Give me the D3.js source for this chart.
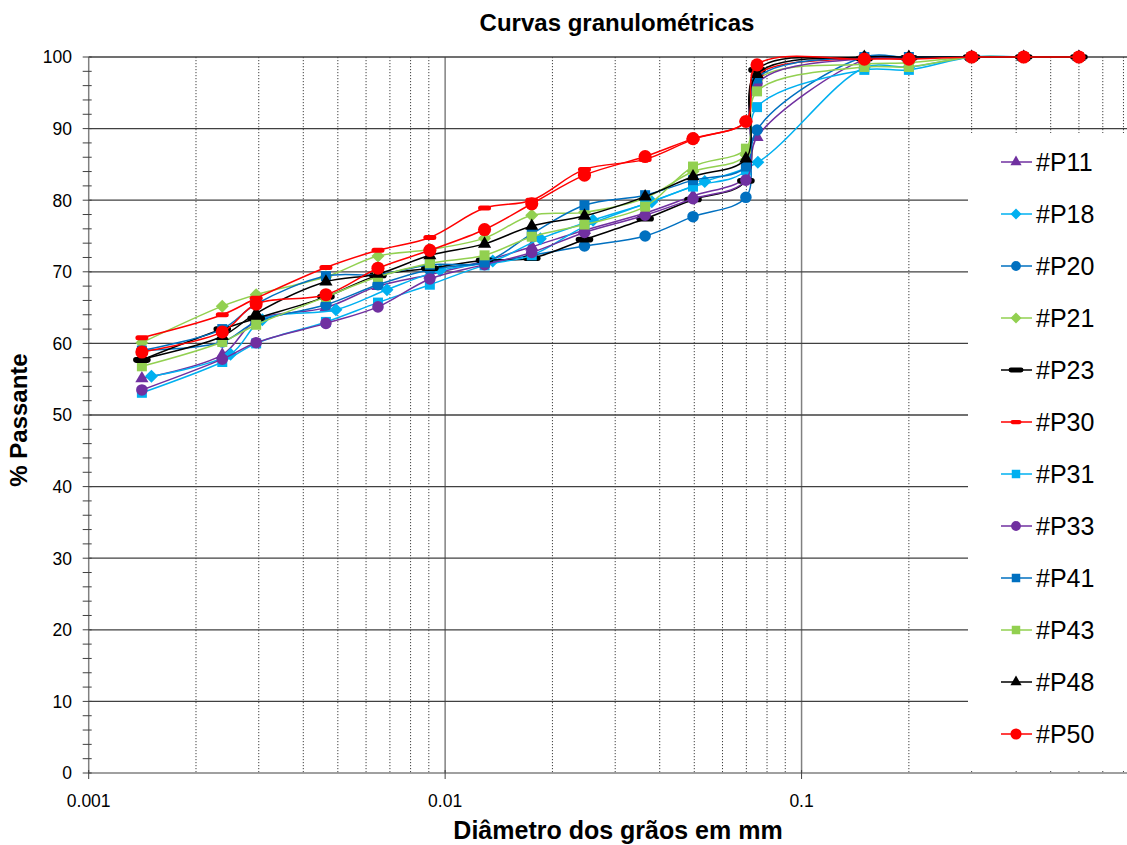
<!DOCTYPE html>
<html>
<head>
<meta charset="utf-8">
<script src="https://cdn.jsdelivr.net/npm/d3@7"></script>
<style>
  body { margin: 0; background: #fff; }
  svg { display: block; font-family: Arial, "Liberation Sans", sans-serif; }
</style>
</head>
<body>
<div id="chart"></div>
<script>
// grain diameters (mm) shared by most samples
const diameters = [0.00141, 0.00237, 0.00295, 0.00463, 0.00648, 0.00906, 0.0129, 0.0175, 0.0246, 0.0364, 0.0496, 0.0698, 0.075, 0.15, 0.2, 0.3, 0.42, 0.6];
// #P18 was read at slightly different diameters
const diametersP18 = [0.0015, 0.0025, 0.00307, 0.00494, 0.00687, 0.00968, 0.0136, 0.0185, 0.026, 0.038, 0.0535, 0.0754, 0.15, 0.2, 0.3, 0.42, 0.6];

const seriesNames = ["#P11", "#P18", "#P20", "#P21", "#P23", "#P30", "#P31", "#P33", "#P41", "#P43", "#P48", "#P50"];

// % passante for each sample
const p11 = [55.1, 58.4, 63.2, 65.0, 68.0, 69.6, 71.5, 73.5, 75.8, 78.2, 80.6, 83.2, 88.8, 99.6, 99.9, 100, 100, 100];
const p18 = [55.4, 58.5, 63.3, 64.7, 67.5, 70.2, 71.5, 74.6, 77.2, 79.8, 82.6, 85.3, 98.5, 98.6, 100, 100, 100];
const p20 = [59.0, 60.2, 63.0, 65.4, 68.2, 70.3, 71.2, 72.3, 73.6, 75.0, 77.7, 80.4, 89.8, 100, 99.9, 100, 100, 100];
const p21 = [60.1, 65.2, 66.8, 69.3, 72.2, 73.1, 74.7, 77.9, 78.3, 80.3, 84.0, 86.3, 96.8, 99.0, 99.2, 100, 100, 100];
const p23 = [57.7, 62.0, 63.5, 66.5, 69.5, 70.5, 71.6, 71.9, 74.5, 77.4, 80.1, 82.7, 98.2, 99.8, 99.9, 100, 100, 100];
const p30 = [60.8, 64.0, 66.3, 70.6, 73.0, 74.8, 78.9, 80.0, 84.3, 85.7, 88.5, 91.0, 97.5, 99.8, 99.9, 100, 100, 100];
const p31 = [53.1, 57.4, 60.0, 63.0, 65.7, 68.2, 70.9, 72.3, 76.3, 79.5, 81.9, 84.2, 93.0, 98.2, 98.2, 100, 100, 100];
const p33 = [53.5, 57.8, 60.1, 62.8, 65.1, 69.0, 71.0, 72.7, 75.5, 77.9, 80.2, 82.8, 96.3, 99.8, 99.9, 100, 100, 100];
const p41 = [59.0, 62.0, 65.5, 69.4, 69.6, 71.0, 71.3, 75.3, 79.3, 80.7, 82.8, 84.7, 97.0, 100, 100, 100, 100, 100];
const p43 = [56.8, 60.2, 62.6, 66.5, 69.3, 71.2, 72.3, 74.9, 76.6, 79.1, 84.7, 87.2, 95.2, 98.6, 98.6, 100, 100, 100];
const p48 = [57.8, 61.0, 64.2, 68.6, 69.7, 72.3, 73.9, 76.4, 77.8, 80.5, 83.3, 85.8, 97.6, 100, 100, 100, 100, 100];
const p50 = [58.8, 61.6, 65.5, 66.8, 70.5, 73.0, 75.9, 79.5, 83.5, 86.1, 88.6, 91.0, 98.9, 99.7, 99.7, 100, 100, 100];

const yTicks = [0, 10, 20, 30, 40, 50, 60, 70, 80, 90, 100];
const xTicks = [0.001, 0.01, 0.1];
const xTickLabels = ["0.001", "0.01", "0.1"];

const seriesValues = [p11, p18, p20, p21, p23, p30, p31, p33, p41, p43, p48, p50];
const seriesDiameters = [diameters, diametersP18, diameters, diameters, diameters, diameters, diameters, diameters, diameters, diameters, diameters, diameters];

// look of each sample: colour + marker
const seriesStyle = {
  "#P11": { color: "#7030A0", marker: "triangle" },
  "#P18": { color: "#00B0F0", marker: "diamond" },
  "#P20": { color: "#0070C0", marker: "circle" },
  "#P21": { color: "#92D050", marker: "diamond" },
  "#P23": { color: "#000000", marker: "dash" },
  "#P30": { color: "#FF0000", marker: "smalldash" },
  "#P31": { color: "#00B0F0", marker: "square" },
  "#P33": { color: "#7030A0", marker: "circle" },
  "#P41": { color: "#0070C0", marker: "square" },
  "#P43": { color: "#92D050", marker: "square" },
  "#P48": { color: "#000000", marker: "triangle" },
  "#P50": { color: "#FF0000", marker: "bigcircle" }
};

const series = seriesNames.map((name, i) => ({
  name,
  points: seriesValues[i].map((v, j) => ({ d: seriesDiameters[i][j], v })),
  ...seriesStyle[name]
}));

const width = 1127, height = 845;
const plot = { left: 88.7, right: 1158, top: 57, bottom: 773 };

const x = d3.scaleLog().domain([0.001, 1]).range([plot.left, plot.right]);
const y = d3.scaleLinear().domain([0, 100]).range([plot.bottom, plot.top]);

const svg = d3.select("#chart").append("svg")
  .attr("width", width)
  .attr("height", height);

svg.append("rect").attr("width", width).attr("height", height).attr("fill", "#fff");

// vertical grid: minor dotted, decades solid
const minorX = [];
[0.001, 0.01, 0.1].forEach(k => {
  for (let m = 2; m <= 9; m++) minorX.push(m * k);
});
svg.append("g").selectAll("line").data(minorX).enter().append("line")
  .attr("x1", d => x(d)).attr("x2", d => x(d))
  .attr("y1", plot.top).attr("y2", plot.bottom)
  .attr("stroke", "#404040")
  .attr("stroke-width", 1)
  .attr("stroke-dasharray", "1.2,1.8");

svg.append("g").selectAll("line").data([0.01, 0.1]).enter().append("line")
  .attr("x1", d => x(d)).attr("x2", d => x(d))
  .attr("y1", plot.top).attr("y2", plot.bottom)
  .attr("stroke", "#808080")
  .attr("stroke-width", 1.5);

// horizontal grid
svg.append("g").selectAll("line").data(yTicks.filter(t => t > 0)).enter().append("line")
  .attr("x1", plot.left).attr("x2", plot.right)
  .attr("y1", d => y(d)).attr("y2", d => y(d))
  .attr("stroke", "#404040")
  .attr("stroke-width", 1.3);

// legend background covers the grid
const legend = { left: 968, top: 133, bottom: 770 };
svg.append("rect")
  .attr("x", legend.left).attr("y", legend.top)
  .attr("width", width - legend.left).attr("height", legend.bottom - legend.top)
  .attr("fill", "#fff");

// axes
svg.append("line")
  .attr("x1", plot.left).attr("x2", plot.left)
  .attr("y1", plot.top).attr("y2", plot.bottom)
  .attr("stroke", "#808080").attr("stroke-width", 1.5);
svg.append("line")
  .attr("x1", plot.left).attr("x2", plot.right)
  .attr("y1", plot.bottom).attr("y2", plot.bottom)
  .attr("stroke", "#808080").attr("stroke-width", 1.5);

// y ticks (major + minor every 2)
const yMinor = d3.range(0, 101, 2);
svg.append("g").selectAll("line").data(yMinor).enter().append("line")
  .attr("x1", plot.left - 6).attr("x2", plot.left + 3)
  .attr("y1", d => y(d)).attr("y2", d => y(d))
  .attr("stroke", "#404040").attr("stroke-width", 1);

svg.append("g").selectAll("text").data(yTicks).enter().append("text")
  .attr("x", 72).attr("y", d => y(d))
  .attr("dy", "0.36em")
  .attr("text-anchor", "end")
  .attr("font-size", 17.5)
  .text(d => d);

// x ticks
svg.append("g").selectAll("line").data(xTicks).enter().append("line")
  .attr("x1", d => x(d)).attr("x2", d => x(d))
  .attr("y1", plot.bottom - 3).attr("y2", plot.bottom + 6)
  .attr("stroke", "#404040");

svg.append("g").selectAll("text").data(xTicks).enter().append("text")
  .attr("x", d => x(d)).attr("y", 807)
  .attr("text-anchor", "middle")
  .attr("font-size", 17.5)
  .text((d, i) => xTickLabels[i]);

// markers
function markerPath(type) {
  switch (type) {
    case "triangle": return d3.symbol(d3.symbolTriangle, 75)();
    case "circle": return d3.symbol(d3.symbolCircle, 105)();
    case "bigcircle": return d3.symbol(d3.symbolCircle, 135)();
    case "square": return d3.symbol(d3.symbolSquare, 100)();
    case "diamond": return "M0,-6.5L6.5,0L0,6.5L-6.5,0Z";
    case "dash": return "M-6,-2.8H6A2.8,2.8 0 0 1 6,2.8H-6A2.8,2.8 0 0 1 -6,-2.8Z";
    case "smalldash": return "M-4,-2.5H4A2.5,2.5 0 0 1 4,2.5H-4A2.5,2.5 0 0 1 -4,-2.5Z";
  }
}

const line = d3.line()
  .x(p => x(p.d))
  .y(p => y(p.v))
  .curve(d3.curveCatmullRom.alpha(0.5));

const seriesG = svg.append("g").selectAll("g").data(series).enter().append("g");

seriesG.append("path")
  .attr("d", s => line(s.points))
  .attr("fill", "none")
  .attr("stroke", s => s.color)
  .attr("stroke-width", 1.5);

seriesG.each(function (s) {
  d3.select(this).selectAll("path.mk").data(s.points).enter().append("path")
    .attr("class", "mk")
    .attr("transform", p => `translate(${x(p.d)},${y(p.v)})`)
    .attr("d", markerPath(s.marker))
    .attr("fill", s.color);
});

// legend entries
const legendItem = svg.append("g").selectAll("g").data(series).enter().append("g")
  .attr("transform", (s, i) => `translate(0,${162 + i * 52})`);

legendItem.append("line")
  .attr("x1", 1001).attr("x2", 1032)
  .attr("stroke", s => s.color).attr("stroke-width", 1.5);
legendItem.append("path")
  .attr("transform", "translate(1016,0) scale(0.85)")
  .attr("d", s => markerPath(s.marker))
  .attr("fill", s => s.color);
legendItem.append("text")
  .attr("x", 1036).attr("dy", "0.36em")
  .attr("font-size", 25)
  .text(s => s.name);

// titles
svg.append("text")
  .attr("x", 617).attr("y", 31)
  .attr("text-anchor", "middle")
  .attr("font-size", 24).attr("font-weight", "bold")
  .text("Curvas granulométricas");

svg.append("text")
  .attr("x", 618).attr("y", 839)
  .attr("text-anchor", "middle")
  .attr("font-size", 25).attr("font-weight", "bold")
  .text("Diâmetro dos grãos em mm");

svg.append("text")
  .attr("transform", "translate(27,420) rotate(-90)")
  .attr("text-anchor", "middle")
  .attr("font-size", 24).attr("font-weight", "bold")
  .text("% Passante");
</script>
</body>
</html>
